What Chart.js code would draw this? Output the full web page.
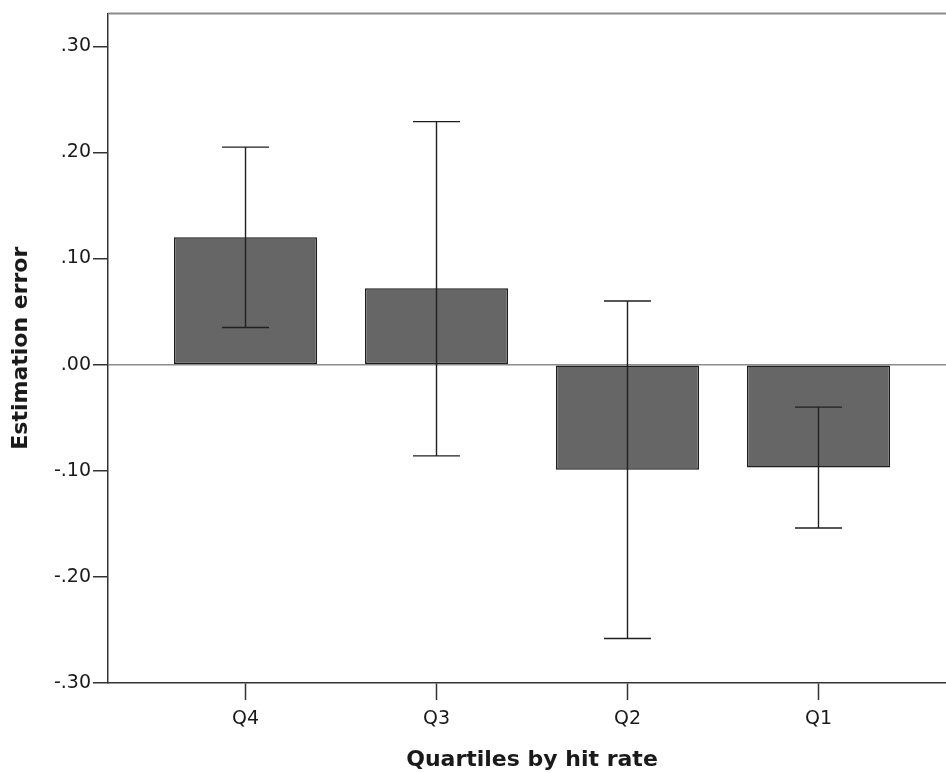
<!DOCTYPE html>
<html>
<head>
<meta charset="utf-8">
<script src="https://cdn.jsdelivr.net/npm/chart.js@4/dist/chart.umd.min.js"></script>
<style>
  html, body { margin: 0; padding: 0; background: #fff; overflow: hidden; }
  #wrap { width: 980px; height: 773px; }
</style>
</head>
<body>
<div id="wrap"><canvas id="chart" width="980" height="773"></canvas></div>
<script>
const quartiles = ["Q4", "Q3", "Q2", "Q1"];
const positions = [1, 2, 3, 4];
const meanError = [0.120, 0.072, -0.099, -0.097];
const ciLow = [0.035, -0.086, -0.258, -0.154];
const ciHigh = [0.205, 0.229, 0.060, -0.040];
const yTickValues = [-0.3, -0.2, -0.1, 0, 0.1, 0.2, 0.3];

const fontFamily = "'DejaVu Sans', 'Liberation Sans', sans-serif";

function formatTick(v) {
  return v.toFixed(2).replace("0.", ".");
}

const frameAndErrors = {
  id: "frameAndErrors",
  afterDatasetsDraw(chart) {
    const ctx = chart.ctx;
    const area = chart.chartArea;
    const x = chart.scales.x;
    const y = chart.scales.y;
    ctx.save();
    // top frame line
    ctx.strokeStyle = "#8c8c8c";
    ctx.lineWidth = 2;
    ctx.beginPath();
    ctx.moveTo(area.left, area.top);
    ctx.lineTo(area.right, area.top);
    ctx.stroke();
    // error bars
    ctx.strokeStyle = "#202020";
    ctx.lineWidth = 1.4;
    positions.forEach((p, i) => {
      const px = x.getPixelForValue(p);
      const yHi = y.getPixelForValue(ciHigh[i]);
      const yLo = y.getPixelForValue(ciLow[i]);
      ctx.beginPath();
      ctx.moveTo(px, yHi);
      ctx.lineTo(px, yLo);
      ctx.moveTo(px - 23.5, yHi);
      ctx.lineTo(px + 23.5, yHi);
      ctx.moveTo(px - 23.5, yLo);
      ctx.lineTo(px + 23.5, yLo);
      ctx.stroke();
    });
    ctx.restore();
  }
};

const ctx = document.getElementById("chart").getContext("2d");
new Chart(ctx, {
  type: "bar",
  data: {
    datasets: [
      {
        label: "Estimation error",
        data: positions.map((p, i) => ({ x: p, y: meanError[i] })),
        backgroundColor: "#666666",
        borderColor: "#1e1e1e",
        borderWidth: 1.5,
        borderSkipped: false,
        categoryPercentage: 1,
        barPercentage: 0.75,
      },
    ],
  },
  options: {
    responsive: false,
    animation: false,
    layout: { padding: { top: 12, right: 24, left: 0, bottom: 0 } },
    plugins: {
      legend: { display: false },
      tooltip: { enabled: false },
    },
    scales: {
      x: {
        type: "linear",
        offset: false,
        min: 0.28,
        max: 4.72,
        afterBuildTicks: (scale) => {
          scale.ticks = positions.map((v) => ({ value: v }));
        },
        afterFit: (scale) => {
          scale.height = 90;
        },
        grid: {
          offset: false,
          drawOnChartArea: false,
          drawTicks: true,
          tickLength: 17,
          tickColor: "#333333",
          tickWidth: 1.5,
        },
        border: { display: true, color: "#333333", width: 1.5 },
        ticks: {
          padding: 8,
          color: "#1a1a1a",
          font: { family: fontFamily, size: 19 },
          callback: (v) => quartiles[positions.indexOf(v)] || "",
        },
        title: {
          display: true,
          text: "Quartiles by hit rate",
          color: "#1a1a1a",
          font: { family: fontFamily, size: 22, weight: "bold" },
          padding: { top: 0, bottom: 0 },
        },
      },
      y: {
        min: -0.3,
        max: 0.331,
        afterBuildTicks: (scale) => {
          scale.ticks = yTickValues.map((v) => ({ value: v }));
        },
        afterFit: (scale) => {
          scale.width = 108;
        },
        grid: {
          color: (c) => (c.tick && c.tick.value === 0 ? "#8c8c8c" : "rgba(0,0,0,0)"),
          lineWidth: 1.5,
          tickLength: 15,
          tickColor: "#333333",
          tickWidth: 1.5,
        },
        border: { display: true, color: "#333333", width: 1.5 },
        ticks: {
          padding: 2,
          color: "#1a1a1a",
          font: { family: fontFamily, size: 19 },
          callback: (v) => formatTick(v),
        },
        title: {
          display: true,
          text: "Estimation error",
          color: "#1a1a1a",
          font: { family: fontFamily, size: 22, weight: "bold" },
          padding: { top: 8, bottom: 0 },
        },
      },
    },
  },
  plugins: [frameAndErrors],
});
</script>
</body>
</html>
